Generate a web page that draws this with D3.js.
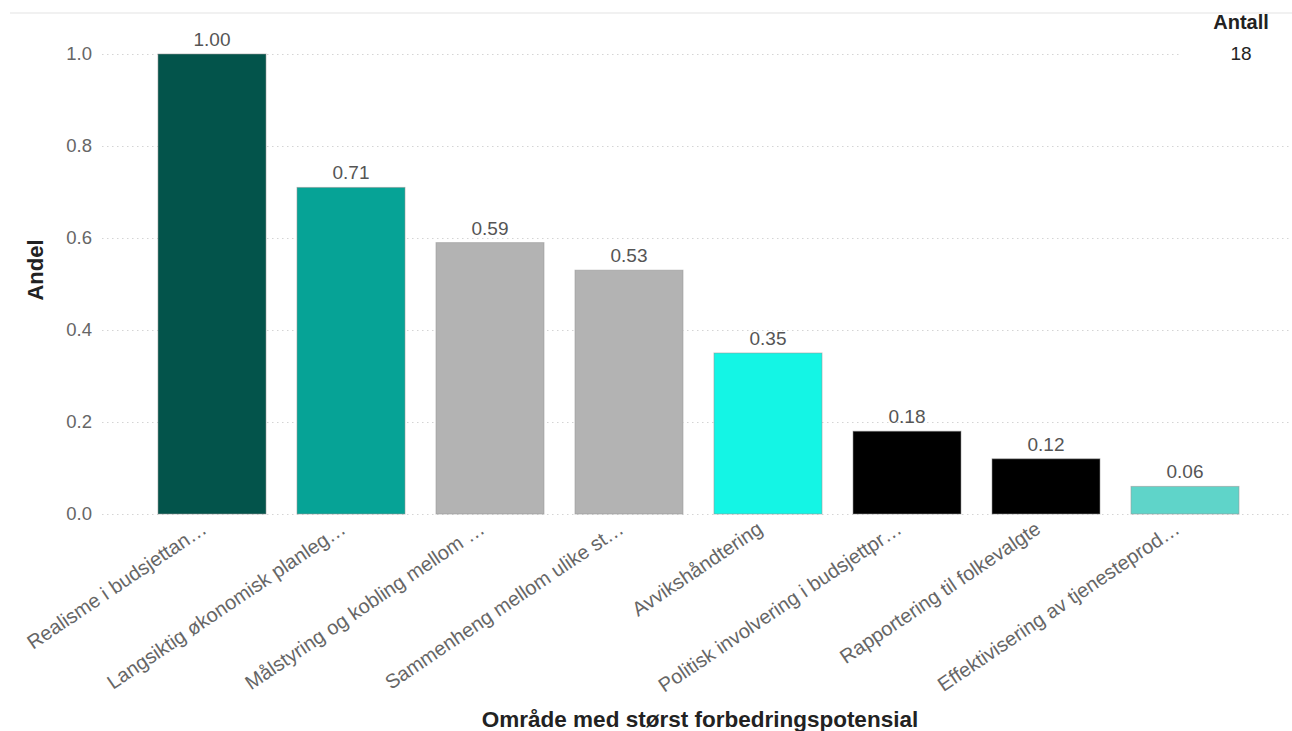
<!DOCTYPE html>
<html>
<head>
<meta charset="utf-8">
<script src="https://cdn.jsdelivr.net/npm/d3@7"></script>
<style>
  html, body { margin: 0; padding: 0; background: #fff; }
  svg { display: block; font-family: "Liberation Sans", Arial, sans-serif; }
</style>
</head>
<body>
<svg id="chart" width="1292" height="731"></svg>
<script>
// Areas with the largest improvement potential, share of respondents
const categories = [
  "Realisme i budsjettan…",
  "Langsiktig økonomisk planleg…",
  "Målstyring og kobling mellom …",
  "Sammenheng mellom ulike st…",
  "Avvikshåndtering",
  "Politisk involvering i budsjettpr…",
  "Rapportering til folkevalgte",
  "Effektivisering av tjenesteprod…"
];
const shares = [1.00, 0.71, 0.59, 0.53, 0.35, 0.18, 0.12, 0.06];
const barColors = ["#03544B", "#06A396", "#B3B3B3", "#B3B3B3", "#14F5E5", "#000000", "#000000", "#5FD4C9"];
const yTicks = [0.0, 0.2, 0.4, 0.6, 0.8, 1.0];
const countLabel = "Antall";
const countValue = 18;

const svg = d3.select("#chart");

const x = d3.scaleBand()
  .domain(categories)
  .range([142.5, 1254.5])
  .paddingInner(0.223)
  .paddingOuter(0.1115);

const y = d3.scaleLinear().domain([0, 1]).range([514, 54]);

// faint top divider
svg.append("line")
  .attr("x1", 10).attr("x2", 1292).attr("y1", 13).attr("y2", 13)
  .attr("stroke", "#ececec").attr("stroke-width", 1.5);

// dotted gridlines
svg.append("g").selectAll("line").data(yTicks).join("line")
  .attr("x1", 102).attr("x2", 1292)
  .attr("y1", d => Math.round(y(d)) + 0.5).attr("y2", d => Math.round(y(d)) + 0.5)
  .attr("stroke", "#d4d4d4").attr("stroke-width", 1)
  .attr("stroke-dasharray", "1.5,3.5");

// y axis tick labels
const yAxis = d3.axisLeft(y).tickValues(yTicks).tickFormat(d3.format(".1f")).tickSize(0).tickPadding(0);
const gy = svg.append("g").attr("transform", "translate(92,0)").call(yAxis);
gy.select(".domain").remove();
gy.selectAll("text")
  .attr("font-size", 18.5).attr("fill", "#666")
  .attr("font-family", "Liberation Sans, Arial, sans-serif");

// bars
svg.append("g").selectAll("rect").data(shares).join("rect")
  .attr("x", (d, i) => x(categories[i]))
  .attr("y", d => y(d))
  .attr("width", x.bandwidth())
  .attr("height", d => y(0) - y(d))
  .attr("fill", (d, i) => barColors[i])
  .attr("stroke", "rgba(150,150,150,0.55)")
  .attr("stroke-width", 1);

// value labels
svg.append("g").selectAll("text").data(shares).join("text")
  .attr("x", (d, i) => x(categories[i]) + x.bandwidth() / 2)
  .attr("y", d => y(d) - 8)
  .attr("text-anchor", "middle")
  .attr("font-size", 19).attr("fill", "#555")
  .text(d => d3.format(".2f")(d));

// x axis category labels, rotated
const xAxis = d3.axisBottom(x).tickSize(0).tickPadding(0);
const gx = svg.append("g").attr("transform", "translate(0,532)").call(xAxis);
gx.select(".domain").remove();
gx.selectAll("text")
  .attr("font-size", 20).attr("fill", "#666")
  .attr("font-family", "Liberation Sans, Arial, sans-serif")
  .attr("text-anchor", "end")
  .attr("dy", "0")
  .attr("transform", "translate(-4,0) rotate(-34)");

// axis titles
svg.append("text")
  .attr("x", 700).attr("y", 727)
  .attr("text-anchor", "middle")
  .attr("font-size", 22.5).attr("font-weight", "bold").attr("fill", "#222")
  .text("Område med størst forbedringspotensial");

svg.append("text")
  .attr("transform", "translate(43,270) rotate(-90)")
  .attr("text-anchor", "middle")
  .attr("font-size", 22).attr("font-weight", "bold").attr("fill", "#222")
  .text("Andel");

// count card in the top right corner
svg.append("rect")
  .attr("x", 1180).attr("y", 14).attr("width", 112).attr("height", 60)
  .attr("fill", "#fff");
svg.append("text")
  .attr("x", 1241).attr("y", 29)
  .attr("text-anchor", "middle")
  .attr("font-size", 20).attr("font-weight", "bold").attr("fill", "#222")
  .text(countLabel);
svg.append("text")
  .attr("x", 1241).attr("y", 60)
  .attr("text-anchor", "middle")
  .attr("font-size", 19).attr("fill", "#222")
  .text(countValue);
</script>
</body>
</html>
